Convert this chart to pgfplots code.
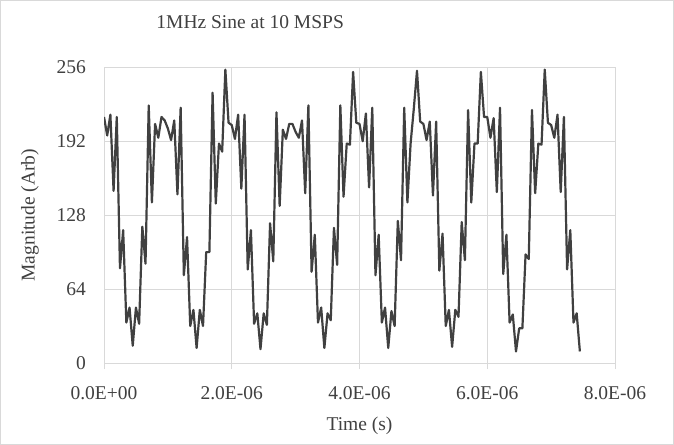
\documentclass[border=0pt]{standalone}
\usepackage{fontspec}
\setmainfont{Liberation Serif}
\usepackage{pgfplots}
\pgfplotsset{compat=1.18}
\definecolor{gridgray}{HTML}{D9D9D9}
\definecolor{linegray}{HTML}{404040}
\definecolor{txtgray}{HTML}{404040}
\newcommand{\chfont}{\fontsize{19.5bp}{22bp}\selectfont}

% samples every 5e-8 s, values 0..255
\pgfplotstableread{
t y
0.00e-6 213
0.05e-6 197
0.10e-6 215
0.15e-6 149
0.20e-6 213
0.25e-6 82
0.30e-6 115
0.35e-6 35
0.40e-6 48
0.45e-6 15
0.50e-6 48
0.55e-6 34
0.60e-6 118
0.65e-6 86
0.70e-6 223
0.75e-6 139
0.80e-6 207
0.85e-6 195
0.90e-6 213
0.95e-6 210
1.00e-6 203
1.05e-6 193
1.10e-6 210
1.15e-6 146
1.20e-6 221
1.25e-6 76
1.30e-6 109
1.35e-6 32
1.40e-6 46
1.45e-6 13
1.50e-6 46
1.55e-6 32
1.60e-6 96
1.65e-6 96
1.70e-6 234
1.75e-6 138
1.80e-6 190
1.85e-6 183
1.90e-6 254
1.95e-6 208
2.00e-6 206
2.05e-6 194
2.10e-6 215
2.15e-6 151
2.20e-6 215
2.25e-6 81
2.30e-6 115
2.35e-6 34
2.40e-6 43
2.45e-6 12
2.50e-6 43
2.55e-6 33
2.60e-6 121
2.65e-6 88
2.70e-6 217
2.75e-6 136
2.80e-6 202
2.85e-6 194
2.90e-6 207
2.95e-6 207
3.00e-6 200
3.05e-6 195
3.10e-6 210
3.15e-6 147
3.20e-6 223
3.25e-6 79
3.30e-6 111
3.35e-6 35
3.40e-6 48
3.45e-6 13
3.50e-6 43
3.55e-6 37
3.60e-6 117
3.65e-6 85
3.70e-6 223
3.75e-6 144
3.80e-6 190
3.85e-6 189
3.90e-6 252
3.95e-6 208
4.00e-6 207
4.05e-6 192
4.10e-6 216
4.15e-6 152
4.20e-6 221
4.25e-6 76
4.30e-6 111
4.35e-6 35
4.40e-6 48
4.45e-6 13
4.50e-6 45
4.55e-6 32
4.60e-6 123
4.65e-6 89
4.70e-6 221
4.75e-6 139
4.80e-6 190
4.85e-6 220
4.90e-6 253
4.95e-6 209
5.00e-6 207
5.05e-6 193
5.10e-6 209
5.15e-6 145
5.20e-6 209
5.25e-6 80
5.30e-6 112
5.35e-6 32
5.40e-6 46
5.45e-6 14
5.50e-6 46
5.55e-6 40
5.60e-6 122
5.65e-6 89
5.70e-6 219
5.75e-6 139
5.80e-6 190
5.85e-6 190
5.90e-6 252
5.95e-6 213
6.00e-6 213
6.05e-6 195
6.10e-6 212
6.15e-6 148
6.20e-6 221
6.25e-6 77
6.30e-6 111
6.35e-6 35
6.40e-6 42
6.45e-6 10
6.50e-6 30
6.55e-6 30
6.60e-6 94
6.65e-6 90
6.70e-6 219
6.75e-6 147
6.80e-6 190
6.85e-6 189
6.90e-6 254
6.95e-6 208
7.00e-6 206
7.05e-6 195
7.10e-6 215
7.15e-6 148
7.20e-6 213
7.25e-6 81
7.30e-6 115
7.35e-6 35
7.40e-6 43
7.45e-6 10
}\sinedata

\begin{document}
\begin{tikzpicture}
\path[use as bounding box] (0,0) rectangle (674bp,445bp);
\draw[gridgray, line width=1bp] (0.5bp,0.5bp) rectangle (673.5bp,444.5bp);
\begin{axis}[
    at={(104bp,82bp)}, anchor=south west,
    scale only axis,
    width=511bp, height=295.7bp,
    xmin=0, xmax=8e-6,
    ymin=0, ymax=256,
    xtick={0,2e-6,4e-6,6e-6,8e-6},
    xticklabels={0.0E+00,2.0E-06,4.0E-06,6.0E-06,8.0E-06},
    ytick={0,64,128,192,256},
    scaled x ticks=false,
    grid=major,
    grid style={gridgray, line width=1bp},
    axis line style={gridgray, line width=1bp},
    xtick pos=bottom, ytick pos=left,
    tick align=outside,
    major tick length=6bp,
    xtick style={gridgray, line width=1bp},
    ytick style={draw=none},
    /pgf/number format/assume math mode=true,
    ticklabel style={font=\chfont, text=txtgray, inner sep=0pt},
    xticklabel style={anchor=base, yshift=-30bp},
    yticklabel style={anchor=east, xshift=-12bp},
    title={1MHz Sine at 10 MSPS},
    title style={font=\chfont, text=txtgray, at={(axis description cs:0.286,1)}, anchor=base, yshift=33bp, inner sep=0pt},
    xlabel={Time (s)},
    xlabel style={font=\chfont, text=txtgray, at={(axis description cs:0.5,0)}, anchor=base, yshift=-67bp, inner sep=0pt},
    ylabel={Magnitude (Arb)},
    ylabel style={font=\chfont, text=txtgray, at={(axis description cs:-0.145,0.5)}, anchor=center, inner sep=0pt},
]
\addplot[color=linegray, line width=2.2bp, line join=round, mark=none] table[x=t, y=y] {\sinedata};
\end{axis}
\end{tikzpicture}
\end{document}
